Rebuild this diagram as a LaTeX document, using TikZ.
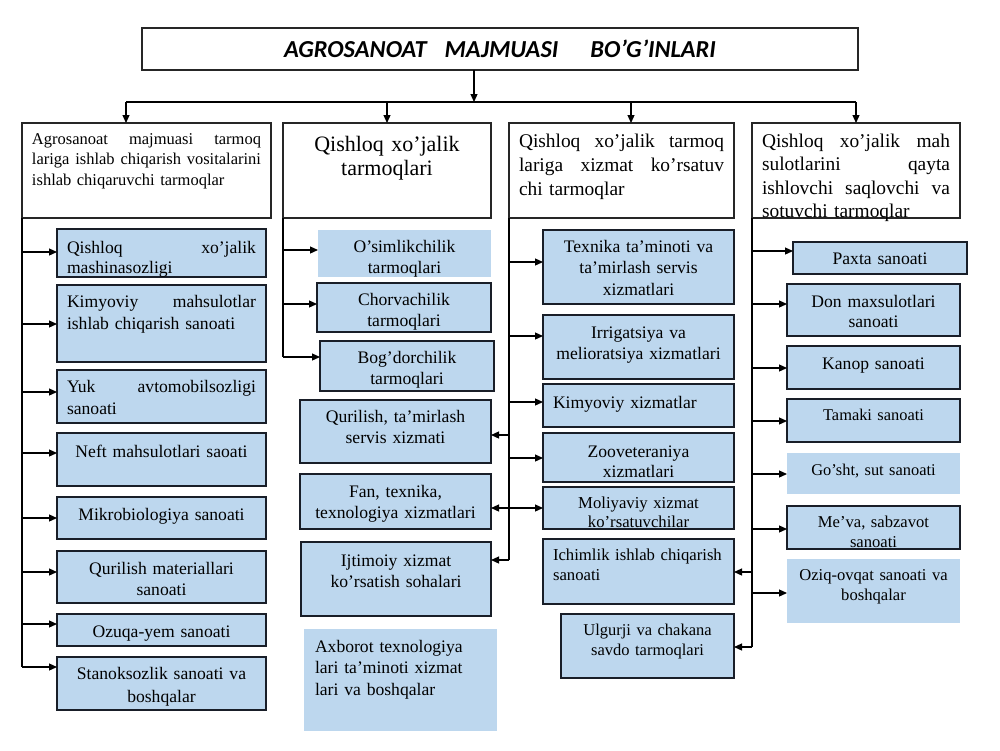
\documentclass[tikz,border=0pt]{standalone}
\usepackage{fontspec}
\setmainfont{Liberation Serif}
\newfontfamily\titlefont{Carlito}
\usetikzlibrary{arrows.meta}
\definecolor{boxblue}{RGB}{189,215,238}
\definecolor{boxline}{RGB}{25,30,40}
\newcommand{\jline}[2]{\noindent\hbox to #1{#2}}

\tikzset{
  cell/.style={anchor=north, inner xsep=5pt, inner ysep=0pt, outer sep=0pt,
    fill=boxblue, draw=boxline, line width=0.9pt, align=center,
    font=\fontsize{8.8}{10.5}\selectfont},
  flat/.style={cell, draw=none},
  head/.style={anchor=north, inner xsep=5pt, inner ysep=0pt, outer sep=0pt,
    fill=white, draw=black!85, line width=0.7pt},
  hd/.style 2 args={text height=#1, text depth=#2},
  link/.style={line width=0.6pt}
}

\begin{document}
\begin{tikzpicture}[x=0.5pt, y=-0.5pt, >={Triangle[length=4pt,width=3.5pt]}]
\fill[white] (0,0) rectangle (1000,750);
\useasboundingbox (0,0) rectangle (1000,750);

% Title
\node[head, anchor=center, minimum width=358pt, minimum height=21pt,
  font=\titlefont\fontsize{12.2}{14}\selectfont\bfseries\itshape] (title) at (500,49)
  {AGROSANOAT\hspace{9pt}MAJMUASI\hspace{16pt}BO’G’INLARI};

% Main groups
\node[head, text width=114.5pt, hd={10.5pt}{37pt}, align=left,
  font=\fontsize{8.25}{10.25}\selectfont] (A) at (146.5,123)
  {\jline{114.5pt}{Agrosanoat\hfill majmuasi\hfill tarmoq}\\\jline{114.5pt}{lariga\hfill ishlab\hfill chiqarish\hfill vositalarini}\\ishlab chiqaruvchi tarmoqlar};
\node[head, text width=94pt, hd={14pt}{33.5pt}, align=center,
  font=\fontsize{11}{12}\selectfont] (B) at (387,123)
  {Qishloq xo’jalik\\tarmoqlari};
\node[head, text width=102.5pt, hd={12pt}{35.5pt}, align=left,
  font=\fontsize{9.7}{12}\selectfont] (C) at (621.5,123)
  {\jline{102.5pt}{Qishloq\hfill xo’jalik\hfill tarmoq}\\\jline{102.5pt}{lariga\hfill xizmat\hfill ko’rsatuv}\\chi tarmoqlar};
\node[head, text width=94pt, hd={12pt}{35.5pt}, align=left,
  font=\fontsize{9.7}{11.75}\selectfont] (D) at (856,123)
  {\jline{94pt}{Qishloq\hfill xo’jalik\hfill mah}\\\jline{94pt}{sulotlarini\hfill qayta}\\\jline{94pt}{ishlovchi\hfill saqlovchi\hfill va}\\sotuvchi tarmoqlar};

% Column 1
\node[cell, text width=94.5pt, hd={12pt}{12pt}, align=left,
  font=\fontsize{8.8}{10}\selectfont] (a1) at (161.5,229)
  {\jline{94.5pt}{Qishloq\hfill xo’jalik}\\mashinasozligi};
\node[cell, text width=94.5pt, hd={11pt}{27.5pt}, align=left,
  font=\fontsize{8.8}{11}\selectfont] (a2) at (161.5,285)
  {\jline{94.5pt}{Kimyoviy\hfill mahsulotlar}\\ishlab chiqarish sanoati};
\node[cell, text width=94.5pt, hd={11pt}{15.5pt}, align=left,
  font=\fontsize{8.8}{11}\selectfont] (a3) at (161.5,370)
  {\jline{94.5pt}{Yuk\hfill avtomobilsozligi}\\sanoati};
\node[cell, text width=94.5pt, hd={12pt}{14.5pt}] (a4) at (161.5,433) {Neft mahsulotlari saoati};
\node[cell, text width=94.5pt, hd={11.5pt}{9.5pt}] (a5) at (161.5,497) {Mikrobiologiya sanoati};
\node[cell, text width=94.5pt, hd={11.5pt}{14.5pt}] (a6) at (161.5,551) {Qurilish materiallari\\sanoati};
\node[cell, text width=94.5pt, hd={11.5pt}{4.5pt}] (a7) at (161.5,614) {Ozuqa-yem sanoati};
\node[cell, text width=94.5pt, hd={11pt}{15.5pt}, font=\fontsize{8.8}{11.5}\selectfont] (a8) at (161.5,657)
  {Stanoksozlik sanoati va\\boshqalar};

% Column 2
\node[flat, text width=76.5pt, hd={11pt}{12.5pt}] (b1) at (404.5,230) {O’simlikchilik\\tarmoqlari};
\node[cell, text width=77pt, hd={11pt}{13.5pt}] (b2) at (404,283) {Chorvachilik\\tarmoqlari};
\node[cell, text width=77pt, hd={11pt}{14pt}] (b3) at (407,341) {Bog’dorchilik\\tarmoqlari};
\node[cell, text width=85.5pt, hd={11pt}{20.5pt}] (b4) at (395.5,400) {Qurilish, ta’mirlash\\servis xizmati};
\node[cell, text width=85.5pt, hd={11.5pt}{16pt}] (b5) at (395.5,474) {Fan, texnika,\\texnologiya xizmatlari};
\node[cell, text width=85pt, hd={12pt}{25pt}] (b6) at (396,542) {Ijtimoiy xizmat\\ko’rsatish sohalari};
\node[flat, text width=85.5pt, inner xsep=5.5pt, hd={11.5pt}{39.5pt}, align=left,
  font=\fontsize{8.8}{10.75}\selectfont] (b7) at (400.5,629)
  {Axborot texnologiya\\lari ta’minoti xizmat\\lari va boshqalar};

% Column 3
\node[cell, text width=85.5pt, hd={11pt}{26pt}, font=\fontsize{8.8}{10.75}\selectfont] (c1) at (638.5,230)
  {Texnika ta’minoti va\\ta’mirlash servis\\xizmatlari};
\node[cell, text width=85.5pt, hd={11.5pt}{20.5pt}] (c2) at (638.5,315) {Irrigatsiya va\\melioratsiya xizmatlari};
\node[cell, text width=85.5pt, hd={12pt}{9.5pt}, align=left] (c3) at (638.5,384) {Kimyoviy xizmatlar};
\node[cell, text width=85.5pt, hd={12pt}{12.5pt}, font=\fontsize{8.8}{10}\selectfont] (c4) at (638.5,433)
  {Zooveteraniya\\xizmatlari};
\node[cell, text width=85.5pt, hd={10.5pt}{10.5pt}, font=\fontsize{8.35}{9.5}\selectfont] (c5) at (638.5,487)
  {Moliyaviy xizmat\\ko’rsatuvchilar};
\node[cell, text width=85.5pt, hd={10.5pt}{22pt}, align=left, font=\fontsize{8.35}{10}\selectfont] (c6) at (638.5,539)
  {Ichimlik ishlab chiqarish\\sanoati};
\node[cell, text width=76.5pt, hd={10.5pt}{21.5pt}, font=\fontsize{8.25}{10}\selectfont] (c7) at (647.5,614)
  {Ulgurji va chakana\\savdo tarmoqlari};

% Column 4
\node[cell, text width=77pt, hd={11pt}{5pt}] (d1) at (880,242) {Paxta sanoati};
\node[cell, text width=76.5pt, hd={11.5pt}{14.5pt}, font=\fontsize{8.8}{10}\selectfont] (d2) at (873.5,284)
  {Don maxsulotlari\\sanoati};
\node[cell, text width=76.5pt, hd={11.5pt}{10pt}] (d3) at (873.5,346) {Kanop sanoati};
\node[cell, text width=76.5pt, hd={10.5pt}{11pt}, font=\fontsize{8.2}{10}\selectfont] (d4) at (873.5,399) {Tamaki sanoati};
\node[flat, text width=76.5pt, hd={11pt}{9.5pt}, font=\fontsize{8.2}{10}\selectfont] (d5) at (873.5,453) {Go’sht, sut sanoati};
\node[cell, text width=76.5pt, hd={10.5pt}{11pt}, font=\fontsize{8.3}{10}\selectfont] (d6) at (873.5,506)
  {Me’va, sabzavot\\sanoati};
\node[flat, text width=76.5pt, hd={10.5pt}{21.5pt}, font=\fontsize{8.3}{10}\selectfont] (d7) at (873.5,559)
  {Oziq-ovqat sanoati va\\boshqalar};

% Title to groups
\coordinate (bus) at (474,102);
\coordinate (busA) at (126,102);
\coordinate (busC) at (631,102);
\draw[link,->] (title.south -| bus) -- (bus);
\draw[link] (busA) -- (D.north |- bus);
\draw[link,->] (busA) -- (busA |- A.north);
\draw[link,->] (B.north |- bus) -- (B.north);
\draw[link,->] (busC) -- (busC |- C.north);
\draw[link,->] (D.north |- bus) -- (D.north);

% Column 1 links
\draw[link] (A.south west) -- (A.south west |- 0,667);
\draw[link,->] (A.south west |- 0,252) -- (a1.west |- 0,252);
\draw[link,->] (A.south west |- 0,324) -- (a2.west |- 0,324);
\draw[link,->] (A.south west |- 0,392) -- (a3.west |- 0,392);
\draw[link,->] (A.south west |- 0,453) -- (a4.west |- 0,453);
\draw[link,->] (A.south west |- 0,518) -- (a5.west |- 0,518);
\draw[link,->] (A.south west |- 0,572) -- (a6.west |- 0,572);
\draw[link,->] (A.south west |- 0,624) -- (a7.west |- 0,624);
\draw[link,->] (A.south west |- 0,667) -- (a8.west |- 0,667);

% Column 2 links
\draw[link] (B.south west) -- (B.south west |- 0,357);
\draw[link,->] (B.south west |- 0,250) -- (b1.west |- 0,250);
\draw[link,->] (B.south west |- 0,304) -- (b2.west |- 0,304);
\draw[link,->] (B.south west |- 0,357) -- (b3.west |- 0,357);

% Column 3 links
\draw[link] (C.south west) -- (C.south west |- 0,560);
\draw[link,->] (C.south west |- 0,262) -- (c1.west |- 0,262);
\draw[link,->] (C.south west |- 0,336) -- (c2.west |- 0,336);
\draw[link,->] (C.south west |- 0,402) -- (c3.west |- 0,402);
\draw[link,->] (C.south west |- 0,458) -- (c4.west |- 0,458);
\draw[link,<->] (b5.east |- 0,508) -- (c5.west |- 0,508);
\draw[link,->] (C.south west |- 0,435) -- (b4.east |- 0,435);
\draw[link,->] (C.south west |- 0,560) -- (b6.east |- 0,560);

% Column 4 links
\draw[link] (D.south west) -- (D.south west |- 0,647);
\draw[link,->] (D.south west |- 0,251) -- (d1.west |- 0,251);
\draw[link,->] (D.south west |- 0,304) -- (d2.west |- 0,304);
\draw[link,->] (D.south west |- 0,368) -- (d3.west |- 0,368);
\draw[link,->] (D.south west |- 0,421) -- (d4.west |- 0,421);
\draw[link,->] (D.south west |- 0,474) -- (d5.west |- 0,474);
\draw[link,->] (D.south west |- 0,529) -- (d6.west |- 0,529);
\draw[link,->] (D.south west |- 0,593) -- (d7.west |- 0,593);
\draw[link,->] (D.south west |- 0,572) -- (c6.east |- 0,572);
\draw[link,->] (D.south west |- 0,647) -- (c7.east |- 0,647);
\end{tikzpicture}
\end{document}
